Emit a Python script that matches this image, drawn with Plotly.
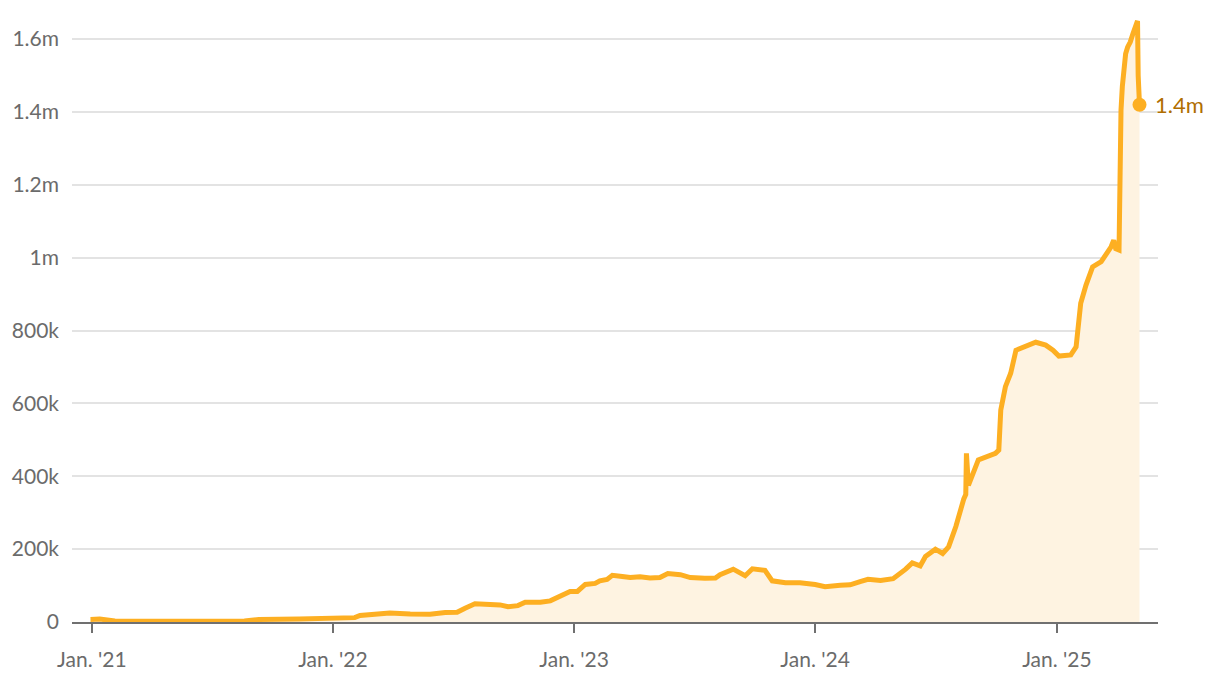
import plotly.graph_objects as go

dates = [
    "2020-12-30", "2021-01-13", "2021-02-05", "2021-03-29", "2021-06-13", "2021-08-20",
    "2021-09-11", "2021-11-11", "2022-01-01", "2022-02-03", "2022-02-11", "2022-03-06",
    "2022-03-28", "2022-04-28", "2022-05-28", "2022-06-20", "2022-07-08", "2022-07-20",
    "2022-08-04", "2022-08-27", "2022-09-11", "2022-09-23", "2022-10-08", "2022-10-19",
    "2022-11-11", "2022-11-26", "2022-12-11", "2022-12-26", "2023-01-06", "2023-01-18",
    "2023-02-02", "2023-02-09", "2023-02-20", "2023-02-28", "2023-03-15", "2023-03-27",
    "2023-04-11", "2023-04-26", "2023-05-11", "2023-05-23", "2023-06-11", "2023-06-26",
    "2023-07-18", "2023-08-03", "2023-08-10", "2023-08-30", "2023-09-17", "2023-09-28",
    "2023-10-17", "2023-10-28", "2023-11-17", "2023-12-09", "2024-01-01", "2024-01-16",
    "2024-02-08", "2024-02-23", "2024-03-09", "2024-03-21", "2024-04-09", "2024-04-28",
    "2024-05-17", "2024-05-27", "2024-06-08", "2024-06-16", "2024-07-01", "2024-07-12",
    "2024-07-21", "2024-08-01", "2024-08-13", "2024-08-16", "2024-08-17", "2024-08-20",
    "2024-09-04", "2024-09-20", "2024-09-30", "2024-10-05", "2024-10-08", "2024-10-15",
    "2024-10-23", "2024-10-31", "2024-11-07", "2024-11-18", "2024-11-30", "2024-12-15",
    "2024-12-26", "2025-01-04", "2025-01-15", "2025-01-22", "2025-01-30", "2025-02-02",
    "2025-02-06", "2025-02-14", "2025-02-24", "2025-03-09", "2025-03-16", "2025-03-24",
    "2025-03-28", "2025-03-31", "2025-04-05", "2025-04-06", "2025-04-08", "2025-04-10",
    "2025-04-12", "2025-04-15", "2025-04-18", "2025-04-22", "2025-04-26", "2025-05-01",
    "2025-05-03", "2025-05-04", "2025-05-05", "2025-05-06",
]

values = [
    7000, 8000, 3000, 2000, 2000, 3000,
    7000, 8000, 10000, 12000, 18000, 21000,
    25000, 22000, 21000, 26000, 27000, 38000,
    50000, 48000, 47000, 42000, 45000, 54000,
    54000, 58000, 71000, 84000, 84000, 103000,
    106000, 113000, 117000, 128000, 125000, 122000,
    124000, 121000, 122000, 133000, 130000, 122000,
    120000, 121000, 130000, 145000, 127000, 146000,
    142000, 113000, 108000, 108000, 103000, 97000,
    101000, 102000, 111000, 117000, 114000, 119000,
    145000, 162000, 154000, 180000, 200000, 188000,
    206000, 262000, 338000, 350000, 463000, 375000,
    445000, 454000, 463000, 472000, 582000, 646000,
    683000, 746000, 751000, 760000, 768000, 760000,
    746000, 730000, 733000, 733000, 755000, 801000,
    875000, 925000, 975000, 989000, 1007000, 1030000,
    1048000, 1025000, 1021000, 1250000, 1405000, 1470000,
    1520000, 1560000, 1578000, 1592000, 1615000, 1643000,
    1650000, 1500000, 1460000, 1420000,
]

y_tick_vals = [0, 200000, 400000, 600000, 800000, 1000000, 1200000, 1400000, 1600000]
y_tick_text = ["0", "200k", "400k", "600k", "800k", "1m", "1.2m", "1.4m", "1.6m"]
x_tick_vals = ["2021-01-01", "2022-01-01", "2023-01-01", "2024-01-01", "2025-01-01"]
x_tick_text = ["Jan. '21", "Jan. '22", "Jan. '23", "Jan. '24", "Jan. '25"]
end_label = "1.4m"

LINE = "#FDAF22"
FILL = "#FEF3E1"
LABEL = "#B06E00"
TEXT = "#6B6B6B"
FONT = "Lato, 'Open Sans', sans-serif"

fig = go.Figure()
fig.add_trace(go.Scatter(
    x=dates, y=values, mode="lines",
    line=dict(color=LINE, width=5, shape="linear"),
    fill="tozeroy", fillcolor=FILL,
    hoverinfo="skip", showlegend=False,
))
fig.add_trace(go.Scatter(
    x=[dates[-1]], y=[values[-1]], mode="markers",
    marker=dict(color=LINE, size=14),
    hoverinfo="skip", showlegend=False, cliponaxis=False,
))
fig.add_annotation(
    x=dates[-1], y=values[-1], text=end_label, showarrow=False,
    xanchor="left", yanchor="middle", xshift=13,
    font=dict(family=FONT, size=22, color=LABEL),
)

fig.update_layout(
    width=1220, height=684,
    margin=dict(l=64, r=70, t=2, b=70),
    paper_bgcolor="white", plot_bgcolor="white",
    font=dict(family=FONT, size=21, color=TEXT),
    xaxis=dict(
        range=["2020-12-02", "2025-06-03"],
        tickvals=x_tick_vals, ticktext=x_tick_text,
        showgrid=False, zeroline=False,
        showline=True, linecolor="#707070", linewidth=2,
        ticks="outside", ticklen=9, tickwidth=2, tickcolor="#707070",
        ticklabelstandoff=9,
        tickfont=dict(family=FONT, size=21, color=TEXT),
    ),
    yaxis=dict(
        range=[0, 1680000],
        tickvals=y_tick_vals, ticktext=y_tick_text,
        showgrid=True, gridcolor="#E3E3E3", gridwidth=1.5,
        zeroline=False, showline=False, ticks="",
        ticklabelstandoff=12,
        tickfont=dict(family=FONT, size=21, color=TEXT),
    ),
)

fig.write_html("out.html")
